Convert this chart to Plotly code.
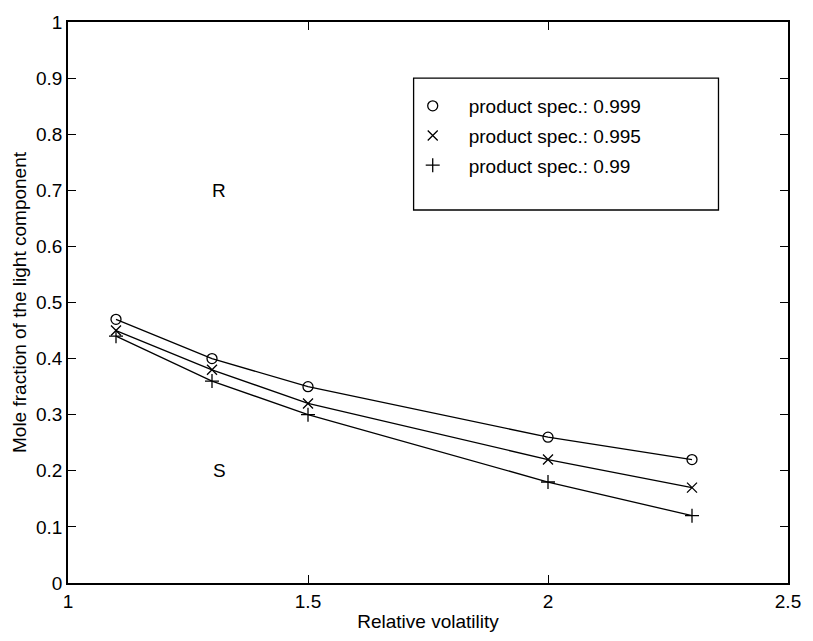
import plotly.graph_objects as go

# Data
volatility = [1.1, 1.3, 1.5, 2.0, 2.3]
spec_999 = [0.47, 0.40, 0.35, 0.26, 0.22]
spec_995 = [0.45, 0.38, 0.32, 0.22, 0.17]
spec_99 = [0.44, 0.36, 0.30, 0.18, 0.12]
series_names = ["product spec.: 0.999", "product spec.: 0.995", "product spec.: 0.99"]
series_symbols = ["circle-open", "x-thin-open", "cross-thin-open"]
x_ticks = [1, 1.5, 2, 2.5]
y_ticks = [0, 0.1, 0.2, 0.3, 0.4, 0.5, 0.6, 0.7, 0.8, 0.9, 1]
region_labels = ["R", "S"]
region_x = [1.315, 1.315]
region_y = [0.70, 0.20]

FONT = "Liberation Sans, Arial, Helvetica, sans-serif"
FS = 19

fig = go.Figure()
for vals, name, sym in zip([spec_999, spec_995, spec_99], series_names, series_symbols):
    fig.add_trace(go.Scatter(
        x=volatility, y=vals, mode="lines+markers", showlegend=False,
        line=dict(color="black", width=1.3),
        marker=dict(symbol=sym, size=10, color="black", line=dict(color="black", width=1.3)),
    ))
for i, (name, sym) in enumerate(zip(series_names, series_symbols)):
    fig.add_trace(go.Scatter(
        x=[None], y=[None], mode="markers", name=name, legendgroup=str(i),
        marker=dict(symbol=sym, size=10, color="black", line=dict(color="black", width=1.3)),
    ))

for lab, lx, ly in zip(region_labels, region_x, region_y):
    fig.add_annotation(x=lx, y=ly, text=lab, showarrow=False,
                       font=dict(family=FONT, size=FS, color="black"))

# legend box
fig.add_shape(type="rect", xref="paper", yref="paper",
              x0=(416 - 68) / 725, x1=(723 - 68) / 725,
              y0=(584 - 205) / 570, y1=(584 - 71) / 570,
              line=dict(color="black", width=1.3), fillcolor="rgba(0,0,0,0)")

axis_common = dict(
    showline=True, linecolor="black", linewidth=1.5, mirror="ticks",
    ticks="inside", ticklen=8, tickcolor="black", tickwidth=1.2,
    showgrid=False, zeroline=False,
    tickfont=dict(family=FONT, size=FS, color="black"),
    title_font=dict(family=FONT, size=FS, color="black"),
)

fig.update_layout(
    width=813, height=641,
    margin=dict(l=68, r=20, t=14, b=57),
    paper_bgcolor="white", plot_bgcolor="white",
    showlegend=True,
    legend=dict(x=(399 - 68) / 725, y=(584 - 80) / 570, xanchor="left", yanchor="top",
                bgcolor="rgba(0,0,0,0)", borderwidth=0, tracegroupgap=2,
                font=dict(family=FONT, size=FS, color="black"), itemwidth=62),
    xaxis=dict(range=[1, 2.5], tickvals=x_ticks, ticktext=[str(v) for v in x_ticks],
               title=dict(text="Relative volatility", standoff=4), **axis_common),
    yaxis=dict(range=[0, 1], tickvals=y_ticks, ticktext=[f"{v:g}" for v in y_ticks],
               title=dict(text="Mole fraction of the light component", standoff=4), **axis_common),
)

fig.write_html("out.html")
